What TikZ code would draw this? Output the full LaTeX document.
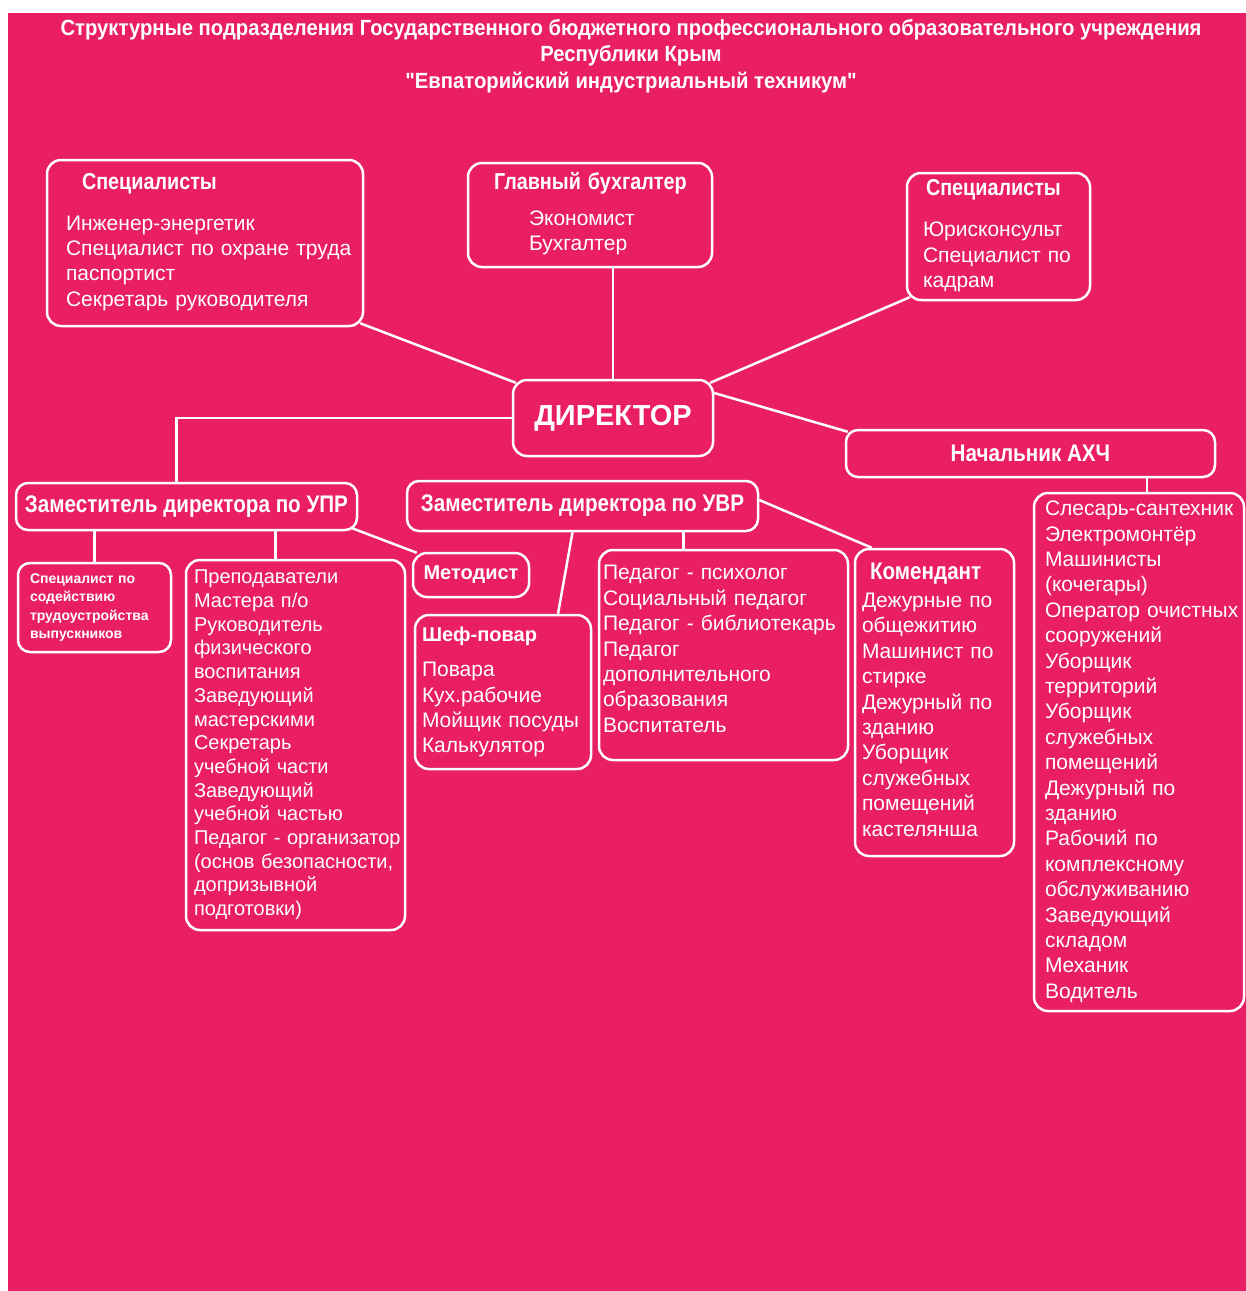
\documentclass[tikz,border=0pt]{standalone}
\usepackage{fontspec}
\setmainfont{Liberation Sans}
\newfontfamily\condfont[FakeStretch=0.86]{Liberation Sans}
\newfontfamily\titlefont[FakeStretch=0.92]{Liberation Sans}
\definecolor{pinkbg}{HTML}{E91E63}

\tikzset{
  box/.style={draw=white, line width=2.5pt, rounded corners=14pt, text=white, align=left, inner ysep=0pt},
  oval/.style={draw=white, line width=2.5pt, rounded corners=12pt, text=white, font=\condfont\bfseries\fontsize{24}{26}\selectfont},
  link/.style={draw=white, line width=2.5pt},
  itemtxt/.style={font=\fontsize{21}{25.4}\selectfont},
}

\begin{document}
\begin{tikzpicture}[x=1pt, y=-1pt]
%			\draw[help lines] (0,0) grid (1246,1291);
			\useasboundingbox (0,0) rectangle (1246,1291);
			\fill[white] (0,0) rectangle (1246,1291);
			\fill[pinkbg] (8,13) rectangle (1246,1291);
			\node[text=white, align=center, font=\titlefont\bfseries\fontsize{22}{26.5}\selectfont] (title) at (631,56) {Структурные подразделения Государственного бюджетного профессионального образовательного учреждения\\ Республики Крым\\ "Евпаторийский индустриальный техникум"};
			% top row
			\node[box, itemtxt, text width=278pt, inner xsep=19pt, minimum height=166pt] (specL) at (205,243) {\begin{tabular}{@{}l@{}} \hspace*{16pt}{\condfont\bfseries\fontsize{23}{25}\selectfont Специалисты} \\[15pt] Инженер-энергетик \\ Специалист по охране труда \\ паспортист \\ Секретарь руководителя \end{tabular}};
			\node[box, itemtxt, text width=122pt, inner xsep=61pt, minimum height=104pt] (buh) at (590,215) {\begin{tabular}{@{}l@{}} \hspace*{-35pt}{\condfont\bfseries\fontsize{23}{25}\selectfont Главный бухгалтер} \\[10pt] Экономист \\ Бухгалтер \end{tabular}};
			\node[box, itemtxt, text width=151pt, inner xsep=16pt, minimum height=127pt] (specR) at (998.5,236.5) {\begin{tabular}{@{}l@{}} \hspace*{3pt}{\condfont\bfseries\fontsize{23}{25}\selectfont Специалисты} \\[16pt] Юрисконсульт \\ Специалист по \\ кадрам \end{tabular}};
			\node[box, align=center, minimum width=200pt, minimum height=76pt, font=\bfseries\fontsize{29}{32}\selectfont] (dir) at (613,418) {ДИРЕКТОР};
			% second row
			\node[oval, minimum width=369pt, minimum height=47pt] (ahch) at (1030.5,453.5) {Начальник АХЧ};
			\node[oval, minimum width=341pt, minimum height=47pt] (upr) at (186.5,506.5) {Заместитель директора по УПР};
			\node[oval, minimum width=351pt, minimum height=50pt] (uvr) at (582.5,506) {Заместитель директора по УВР};
			% third row
			\node[box, rounded corners=12pt, text width=129pt, inner xsep=12pt, minimum height=89pt, font=\bfseries\fontsize{14}{18.5}\selectfont] (sodey) at (94.5,607.5) {\begin{tabular}{@{}l@{}} Специалист по \\ содействию \\ трудоустройства \\ выпускников \end{tabular}};
			\node[box, text width=203pt, inner xsep=8pt, minimum height=370pt, font=\fontsize{20}{23.7}\selectfont] (prep) at (295.5,745) {\begin{tabular}{@{}l@{}} Преподаватели \\ Мастера п/о \\ Руководитель \\ физического \\ воспитания \\ Заведующий \\ мастерскими \\ Секретарь \\ учебной части \\ Заведующий \\ учебной частью \\ Педагог - организатор \\ (основ безопасности, \\ допризывной \\ подготовки) \end{tabular}};
			\node[box, align=center, minimum width=116pt, minimum height=44pt, font=\bfseries\fontsize{20}{24}\selectfont] (metod) at (471,575) {Методист};
			\node[box, itemtxt, text width=162pt, inner xsep=7pt, minimum height=154pt] (shef) at (503,692) {\begin{tabular}{@{}l@{}} {\bfseries\fontsize{20}{24}\selectfont Шеф-повар} \\[10pt] Повара \\ Кух.рабочие \\ Мойщик посуды \\ Калькулятор \end{tabular}};
			\node[box, itemtxt, text width=241pt, inner xsep=4pt, minimum height=210pt] (ped) at (723.5,655) {\begin{tabular}{@{}l@{}} Педагог - психолог \\ Социальный педагог \\ Педагог - библиотекарь \\ Педагог \\ дополнительного \\ образования \\ Воспитатель \\[8pt] \end{tabular}};
			\node[box, itemtxt, text width=145pt, inner xsep=7pt, minimum height=307pt] (komend) at (934.5,702.5) {\begin{tabular}{@{}l@{}} \hspace*{8pt}{\condfont\bfseries\fontsize{24}{25}\selectfont Комендант} \\[3pt] Дежурные по \\ общежитию \\ Машинист по \\ стирке \\ Дежурный по \\ зданию \\ Уборщик \\ служебных \\ помещений \\ кастелянша \end{tabular}};
			\node[box, itemtxt, text width=188pt, inner xsep=11pt, minimum height=518pt] (slesar) at (1139,752) {\begin{tabular}{@{}l@{}} Слесарь-сантехник \\ Электромонтёр \\ Машинисты \\ (кочегары) \\ Оператор очистных \\ сооружений \\ Уборщик \\ территорий \\ Уборщик \\ служебных \\ помещений \\ Дежурный по \\ зданию \\ Рабочий по \\ комплексному \\ обслуживанию \\ Заведующий \\ складом \\ Механик \\ Водитель \end{tabular}};
			% connectors
			\draw[link] ([shift={(-4,-4)}]specL.south east) -- ([shift={(4,4)}]dir.north west);
			\draw[link] (buh.south -| dir.north) -- (dir.north);
			\draw[link] ([shift={(4,-4)}]specR.south west) -- ([shift={(-4,4)}]dir.north east);
			\draw[link] (dir.west) -| ([shift={(-10,0)}]upr.north);
			\draw[link] ([shift={(0,-25)}]dir.east) -- ([shift={(3,3)}]ahch.north west);
			\draw[link] (sodey.north |- upr.south) -- (sodey.north);
			\draw[link] ([shift={(-20,0)}]prep.north |- upr.south) -- ([shift={(-20,0)}]prep.north);
			\draw[link] ([shift={(-6,-3)}]upr.south east) -- ([shift={(5,1)}]metod.north west);
			\draw[link] ([shift={(-10,0)}]uvr.south) -- ([shift={(55,0)}]shef.north);
			\draw[link] ([shift={(-40,0)}]ped.north |- uvr.south) -- ([shift={(-40,0)}]ped.north);
			\draw[link] ([shift={(0,-6)}]uvr.east) -- ([shift={(18,0)}]komend.north west);
			\draw[link] ([shift={(8,0)}]slesar.north |- ahch.south) -- ([shift={(8,0)}]slesar.north);
		\end{tikzpicture}
\end{document}
